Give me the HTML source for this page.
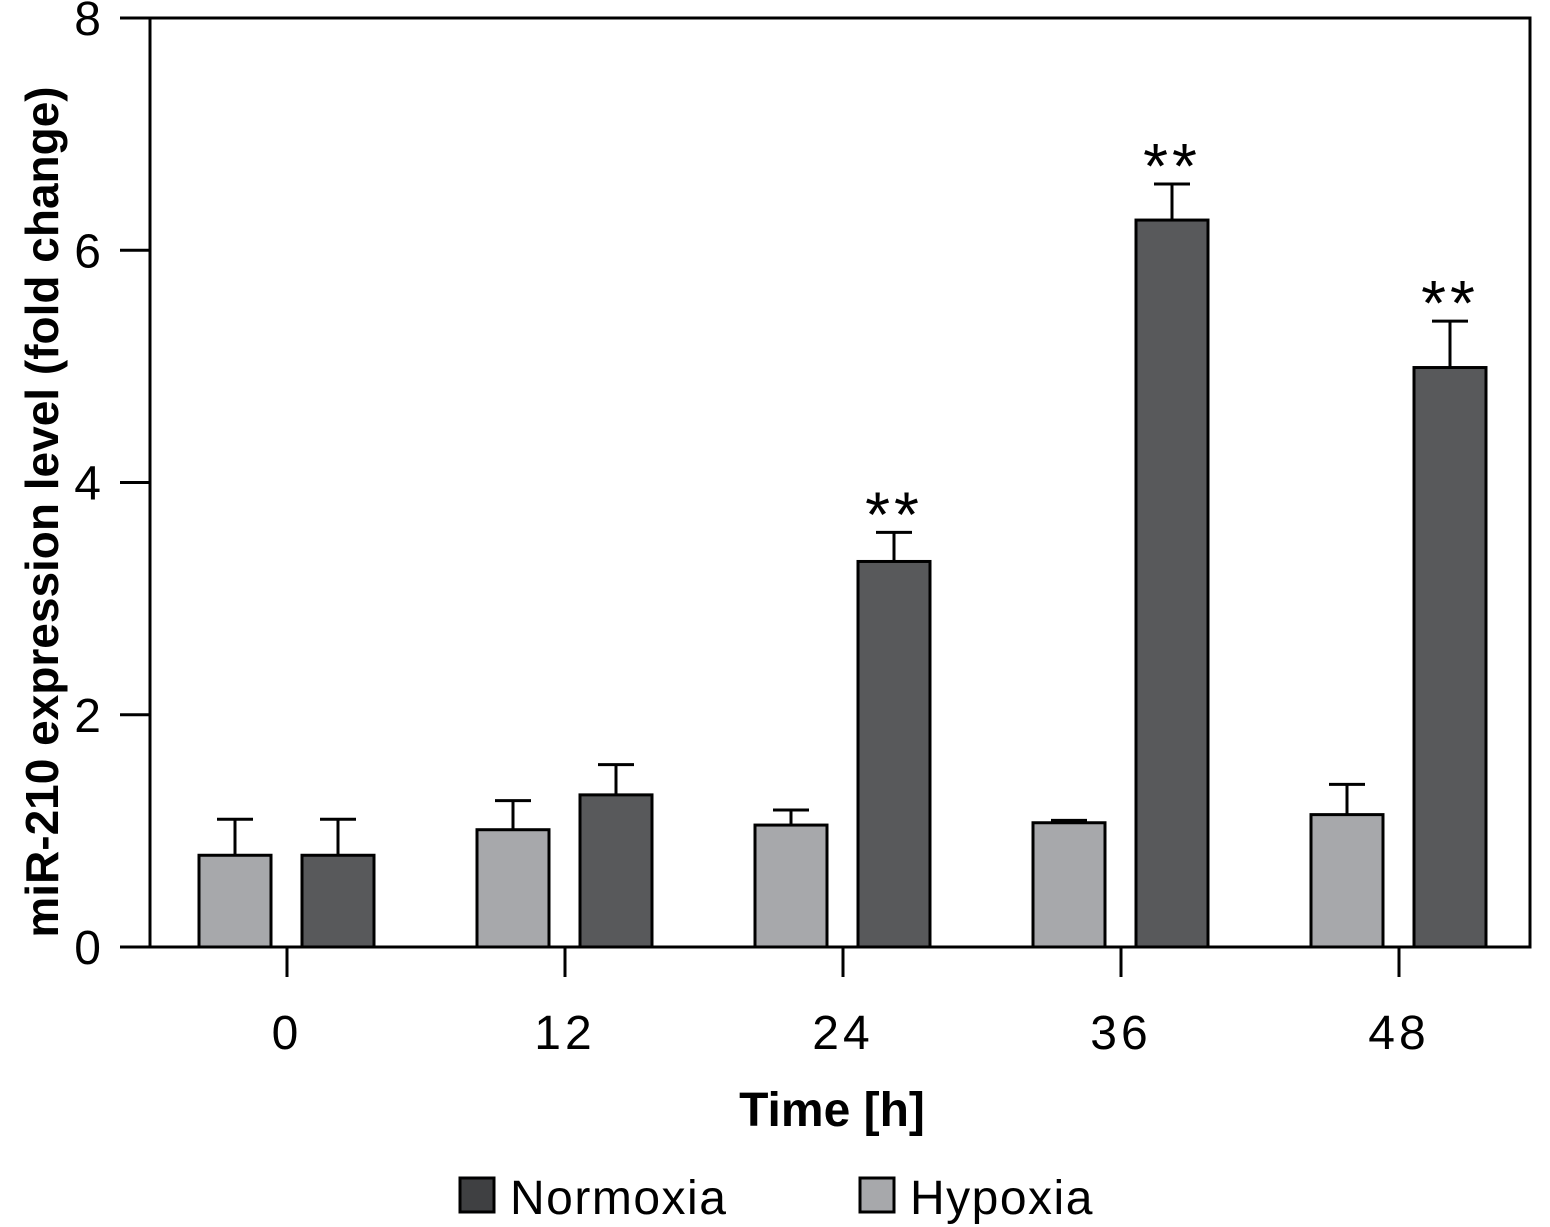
<!DOCTYPE html>
<html><head><meta charset="utf-8"><style>
body{margin:0;background:#fff;}
svg{display:block;font-family:"Liberation Sans","DejaVu Sans",sans-serif;}
</style></head><body>
<svg id="chart" width="1550" height="1227" viewBox="0 0 1550 1227">
<g id="plot"></g>
</svg>
<script>
const categories = ["0","12","24","36","48"];
const hypoxiaValues = [0.79, 1.01, 1.05, 1.07, 1.14];
const hypoxiaErrors = [0.31, 0.25, 0.13, 0.02, 0.26];
const normoxiaValues = [0.79, 1.31, 3.32, 6.26, 4.99];
const normoxiaErrors = [0.31, 0.26, 0.25, 0.31, 0.40];
const significance = ["", "", "**", "**", "**"];
const yTicks = [0, 2, 4, 6, 8];

const NS = "http://www.w3.org/2000/svg";
const g = document.getElementById("plot");
const X0 = 150, X1 = 1530, Y0 = 947, Y1 = 18;
const yScale = v => Y0 - (v / 8) * (Y0 - Y1);
const xCenter = i => 287 + i * 278;
function el(tag, attrs, text) {
  const e = document.createElementNS(NS, tag);
  for (const k in attrs) e.setAttribute(k, attrs[k]);
  if (text !== undefined) e.textContent = text;
  g.appendChild(e);
  return e;
}
let e = el("rect", {x: X0, y: Y1, width: X1 - X0, height: Y0 - Y1, fill: "none", stroke: "#000", "stroke-width": 3});


yTicks.forEach(t => {
  const y = yScale(t);
  let l = el("line", {x1: 120, x2: X0, y1: y, y2: y, stroke: "#000", "stroke-width": 3});
  
  
  let tx = el("text", {x: 103, y: y + 17, "text-anchor": "end", "font-size": 48, "letter-spacing": 2}, String(t));
  
  
});
function bar(x, v, err, fill, name) {
  const top = yScale(v), et = yScale(v + err), cx = x + 36;
  let ln = el("line", {x1: cx, x2: cx, y1: top, y2: et, stroke: "#000", "stroke-width": 3});
  
  
  let cap = el("line", {x1: cx - 18, x2: cx + 18, y1: et, y2: et, stroke: "#000", "stroke-width": 3});
  
  
  let r = el("rect", {x: x, y: top, width: 72, height: Y0 - top, fill: fill, stroke: "#000", "stroke-width": 3});
  
  
}
categories.forEach((c, i) => {
  const cx = xCenter(i);
  let t = el("line", {x1: cx, x2: cx, y1: Y0, y2: 977, stroke: "#000", "stroke-width": 3});
  
  
  let lb = el("text", {x: cx, y: 1049, "text-anchor": "middle", "font-size": 48, "letter-spacing": 4}, c);
  
  
  bar(cx - 88, hypoxiaValues[i], hypoxiaErrors[i], "#a7a8ab", "bar-hypoxia-" + c);
  bar(cx + 15, normoxiaValues[i], normoxiaErrors[i], "#58595b", "bar-normoxia-" + c);
  if (significance[i]) {
    let s = el("text", {x: cx + 51, y: yScale(normoxiaValues[i] + normoxiaErrors[i]) + 4, "text-anchor": "middle", "font-size": 64, "letter-spacing": 4}, significance[i]);
    
    
  }
});
let xt = el("text", {x: 832, y: 1126, "text-anchor": "middle", "font-size": 48, "font-weight": "bold"}, "Time [h]");


let yt = el("text", {x: 0, y: 0, "text-anchor": "middle", "font-size": 46, "font-weight": "bold", transform: "translate(58,512) rotate(-90)"}, "miR-210 expression level (fold change)");


let r1 = el("rect", {x: 460, y: 1178, width: 34, height: 34, fill: "#3f4042", stroke: "#000", "stroke-width": 3});


let t1 = el("text", {x: 510, y: 1214, "font-size": 48, "letter-spacing": 1.5}, "Normoxia");


let r2 = el("rect", {x: 860, y: 1178, width: 34, height: 34, fill: "#a7a8ab", stroke: "#000", "stroke-width": 3});


let t2 = el("text", {x: 910, y: 1214, "font-size": 48, "letter-spacing": 1.5}, "Hypoxia");


</script>
</body></html>
